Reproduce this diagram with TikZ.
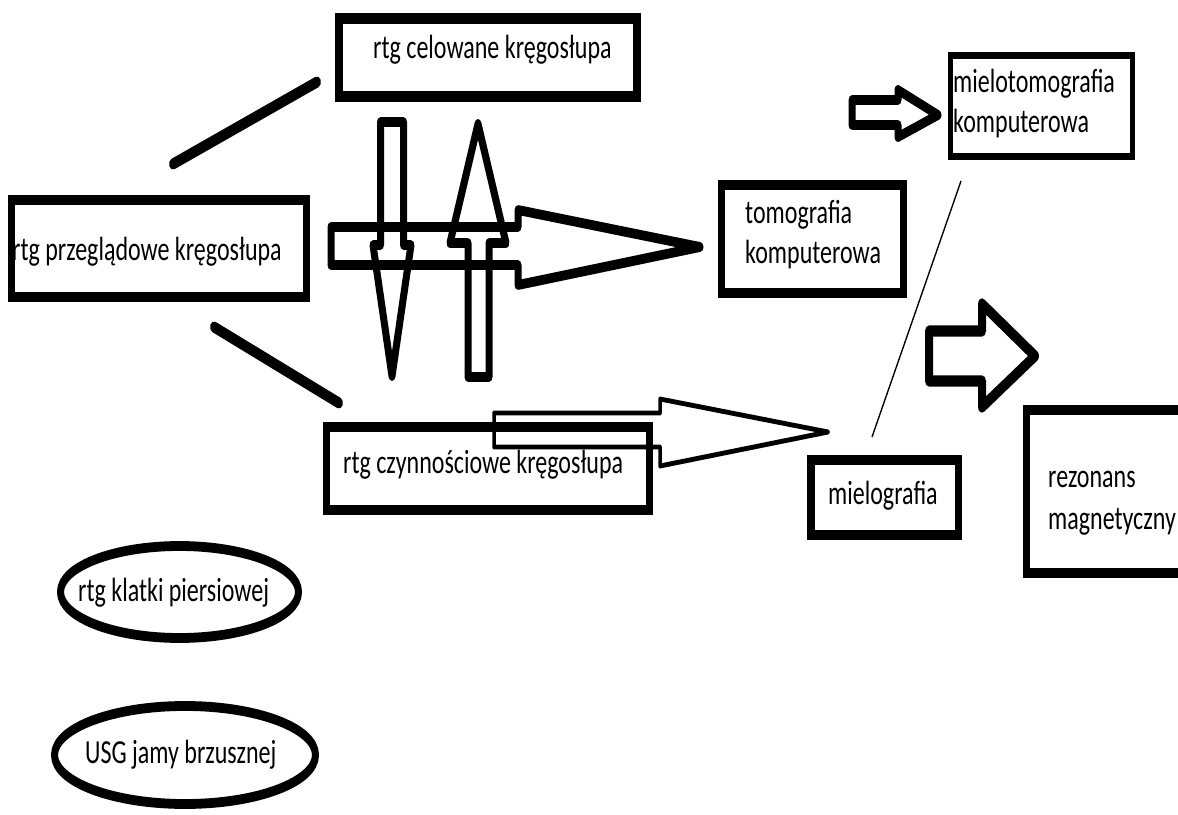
\documentclass[tikz,border=0pt]{standalone}
\usepackage{fontspec}
\setmainfont{Carlito}
\usetikzlibrary{shapes.geometric}
\begin{document}
\begin{tikzpicture}[x=1pt,y=-1pt]
\useasboundingbox (0,0) rectangle (1178,814);
\fill[white] (0,0) rectangle (1178,814);
\begin{scope}[y={(0pt,-0.714286pt)}, transform canvas={yscale=1.4},
  boxframe/.style={draw, rectangle, inner sep=0pt, line width=7pt},
  ovalframe/.style={draw, ellipse, inner sep=0pt, line width=7pt},
  txt/.style={anchor=base west, inner sep=0pt, font=\fontsize{24}{29}\selectfont},
  barrow/.style={draw, line width=7pt, line join=round},
  thickline/.style={line width=8pt, line cap=round}]
% boxes
\node[boxframe, line width=8pt, minimum width=298pt, minimum height=55.57pt] (C1) at (488,57.5) {};
\node[boxframe, minimum width=295pt, minimum height=69.29pt] (A) at (159,248.5) {};
\node[boxframe, minimum width=182pt, minimum height=77.14pt] (T) at (812.5,239) {};
\node[boxframe, line width=5pt, minimum width=182pt, minimum height=72.14pt] (M) at (1041.5,106) {};
\node[boxframe, minimum width=323pt, minimum height=59.29pt] (Z) at (488,468.5) {};
\node[boxframe, line width=7.5pt, minimum width=147.5pt, minimum height=53.57pt] (G) at (884.5,497.5) {};
\node[boxframe, minimum width=173.5pt, minimum height=116.43pt] (R) at (1113,491.5) {};
\node[ovalframe, minimum width=238pt, minimum height=65.7pt] (E1) at (179.5,592) {};
\node[ovalframe, minimum width=261pt, minimum height=70pt] (E2) at (185,755) {};
% texts
\node[txt] (tC1) at (373,58) {rtg celowane kręgosłupa};
\node[txt] (tA) at (12,260) {rtg przeglądowe kręgosłupa};
\node[txt] (tT1) at (745,223) {tomografia};
\node[txt] (tT2) at (745,263) {komputerowa};
\node[txt] (tM1) at (953,92) {mielotomografia};
\node[txt] (tM2) at (953,132) {komputerowa};
\node[txt] (tZ) at (343,473) {rtg czynnościowe kręgosłupa};
\node[txt] (tG) at (828,504) {mielografia};
\node[txt] (tR1) at (1048,487) {rezonans};
\node[txt] (tR2) at (1048,529) {magnetyczny};
\node[txt] (tE1) at (78,601) {rtg klatki piersiowej};
\node[txt] (tE2) at (85,763) {USG jamy brzusznej};
% plain lines
\coordinate (l1a) at (173,164); \coordinate (l1b) at (317,82);
\coordinate (l2a) at (214,327); \coordinate (l2b) at (339,403);
\coordinate (l3a) at (961,181); \coordinate (l3b) at (872,437);
\draw[thickline] (l1a) -- (l1b);
\draw[thickline] (l2a) -- (l2b);
\draw[line width=1.3pt] (l3a) -- (l3b);
% block arrows
\draw[barrow] (331,227) -- (518,227) -- (518,210) -- (700,247) -- (518,285) -- (518,265) -- (331,265) -- cycle;
\draw[barrow] (380.5,122) -- (403.5,122) -- (403.5,245) -- (411,245) -- (392,376) -- (373,245) -- (380.5,245) -- cycle;
\draw[barrow] (478,124) -- (506,243) -- (489,243) -- (489,377) -- (468,377) -- (468,243) -- (450,243) -- cycle;
\draw[barrow, line width=3.5pt] (494,413) -- (660,413) -- (660,399) -- (828,432) -- (660,466) -- (660,447) -- (494,447) -- cycle;
\draw[barrow] (852,100) -- (898,100) -- (898,90) -- (938,115) -- (898,137) -- (898,125) -- (852,125) -- cycle;
\draw[barrow, line width=8pt] (929,331) -- (982,331) -- (982,304) -- (1035,356) -- (982,407) -- (982,381) -- (929,381) -- cycle;
\end{scope}
\end{tikzpicture}
\end{document}
